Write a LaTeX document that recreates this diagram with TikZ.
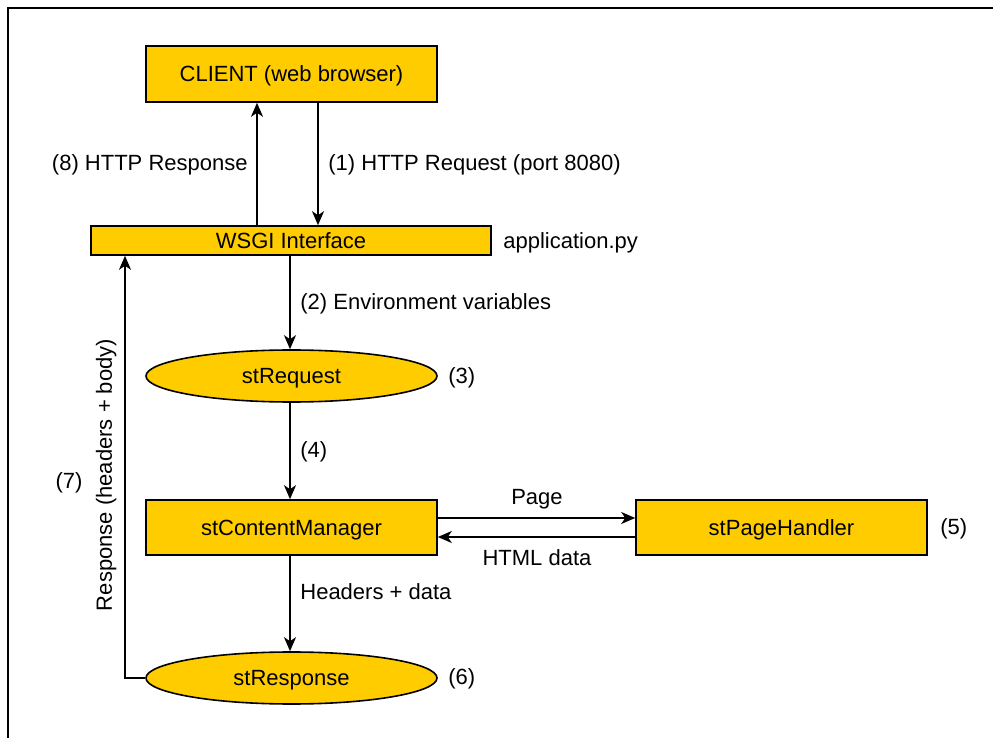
\documentclass[tikz,border=0pt]{standalone}
\usepackage{fontspec}
\setmainfont{Liberation Sans}
\usetikzlibrary{arrows.meta,shapes.geometric}
\definecolor{boxfill}{HTML}{FFCC00}
\begin{document}
\begin{tikzpicture}[x=0.5pt,y=-0.5pt,
  font=\fontsize{11}{13}\selectfont,
  every node/.style={text depth=0pt},
  comp/.style={draw=black,line width=0.8pt,fill=boxfill,rectangle,inner sep=0pt},
  oval/.style={draw=black,line width=0.8pt,fill=boxfill,ellipse,inner sep=0pt},
  flow/.style={draw=black,line width=0.7pt,-{Stealth[length=7pt,width=6pt,inset=2pt]}},
  lbl/.style={inner sep=0pt}]
\useasboundingbox (0,0) rectangle (993,738);
% outer frame (top and left edges)
\draw[line width=0.7pt] (8,738) -- (8,8) -- (993,8);

% components
\node[comp,minimum width=145.5pt,minimum height=28pt] (client) at (291.5,74) {CLIENT (web browser)};
\node[comp,minimum width=200pt,minimum height=14.5pt] (wsgi) at (291,240.5) {WSGI Interface};
\node[lbl,anchor=west] (app) at (503,241) {application.py};
\node[oval,minimum width=145.5pt,minimum height=26pt] (req) at (291.5,376) {stRequest};
\node[lbl,anchor=west] (n3) at (448,376) {(3)};
\node[comp,minimum width=145.5pt,minimum height=27.5pt] (cm) at (291.5,527.5) {stContentManager};
\node[comp,minimum width=145.5pt,minimum height=27.5pt] (ph) at (781.5,527.5) {stPageHandler};
\node[lbl,anchor=west] (n5) at (940,527) {(5)};
\node[oval,minimum width=145.5pt,minimum height=26pt] (resp) at (291.5,678) {stResponse};
\node[lbl,anchor=west] (n6) at (448,677) {(6)};

% request / response between client and WSGI layer
\draw[flow] (wsgi.north -| 257,0) -- (client.south -| 257,0);
\draw[flow] (client.south -| 318,0) -- (wsgi.north -| 318,0);
\node[lbl,anchor=east] (l8) at (248,163) {(8) HTTP Response};
\node[lbl,anchor=west] (l1) at (328,163) {(1) HTTP Request (port 8080)};

% main processing chain
\draw[flow] (wsgi.south -| 290,0) -- (req.north -| 290,0);
\node[lbl,anchor=west] (l2) at (300,302) {(2) Environment variables};
\draw[flow] (req.south -| 290,0) -- (cm.north -| 290,0);
\node[lbl,anchor=west] (l4) at (300,450) {(4)};
\draw[flow] (cm.south -| 290,0) -- (resp.north -| 290,0);
\node[lbl,anchor=west] (lh) at (300,592) {Headers + data};

% page handler exchange
\draw[flow] (cm.east |- 0,518) -- (ph.west |- 0,518);
\draw[flow] (ph.west |- 0,537) -- (cm.east |- 0,537);
\node[lbl] (lp) at (537,497) {Page};
\node[lbl] (lhtml) at (537,558) {HTML data};

% response back to the WSGI layer
\draw[flow] (resp.west) -- (125,678) -- (wsgi.south -| 125,0);
\node[lbl,rotate=90] (l7) at (104,475) {Response (headers + body)};
\node[lbl] (n7) at (69,481) {(7)};
\end{tikzpicture}
\end{document}
